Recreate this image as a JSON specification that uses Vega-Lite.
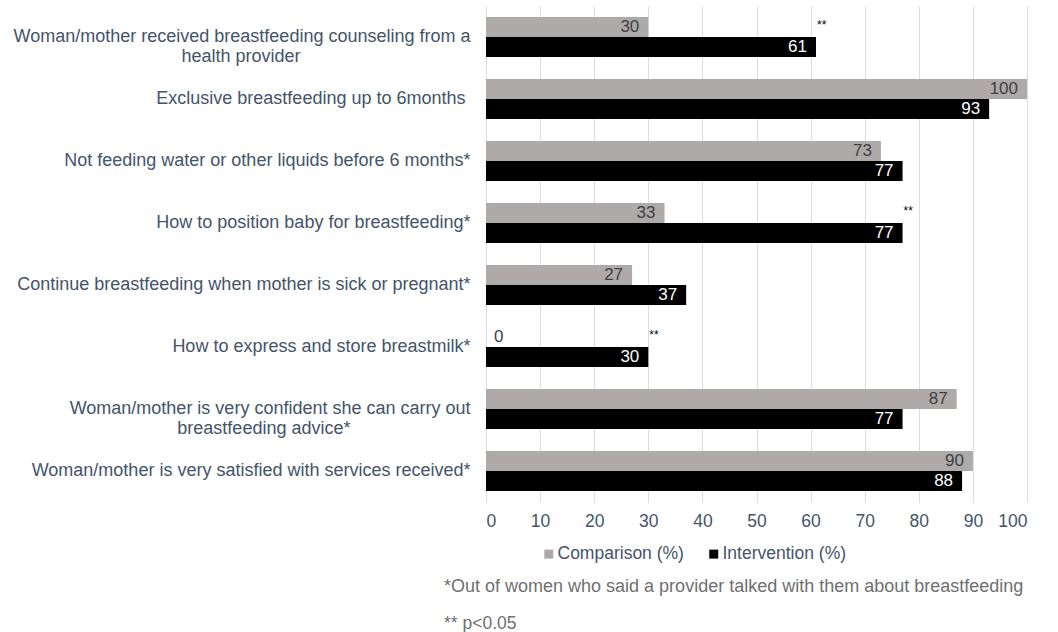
{
  "$schema": "https://vega.github.io/schema/vega-lite/v6.json",
  "width": 541,
  "height": 496,
  "autosize": {"type": "none"},
  "padding": {"left": 486, "top": 6, "right": 31, "bottom": 130},
  "background": "white",
  "config": {
    "font": "Liberation Sans",
    "view": {"stroke": null},
    "title": {"font": "Liberation Sans", "subtitleFont": "Liberation Sans"}
  },
  "title": {
    "text": "*Out of women who said a provider talked with them about breastfeeding",
    "subtitle": "** p<0.05",
    "orient": "bottom",
    "anchor": "start",
    "frame": "group",
    "dx": -42,
    "offset": 15,
    "fontSize": 18,
    "fontWeight": "normal",
    "color": "#6F6F6F",
    "subtitleFontSize": 17.5,
    "subtitleColor": "#6F6F6F",
    "subtitlePadding": 19
  },
  "data": {
    "values": [
      {"category": "Woman/mother received breastfeeding counseling from a|health provider\u00a0\u00a0\u00a0\u00a0\u00a0\u00a0\u00a0\u00a0\u00a0\u00a0\u00a0\u00a0\u00a0\u00a0\u00a0\u00a0\u00a0\u00a0\u00a0\u00a0\u00a0\u00a0\u00a0\u00a0\u00a0\u00a0\u00a0\u00a0\u00a0\u00a0\u00a0\u00a0\u00a0\u00a0\u200b", "series": "Comparison (%)", "value": 30, "sig": "**", "sigAt": 61},
      {"category": "Woman/mother received breastfeeding counseling from a|health provider\u00a0\u00a0\u00a0\u00a0\u00a0\u00a0\u00a0\u00a0\u00a0\u00a0\u00a0\u00a0\u00a0\u00a0\u00a0\u00a0\u00a0\u00a0\u00a0\u00a0\u00a0\u00a0\u00a0\u00a0\u00a0\u00a0\u00a0\u00a0\u00a0\u00a0\u00a0\u00a0\u00a0\u00a0\u200b", "series": "Intervention (%)", "value": 61, "sig": "", "sigAt": null},
      {"category": "Exclusive breastfeeding up to 6months\u00a0\u200b", "series": "Comparison (%)", "value": 100, "sig": "", "sigAt": null},
      {"category": "Exclusive breastfeeding up to 6months\u00a0\u200b", "series": "Intervention (%)", "value": 93, "sig": "", "sigAt": null},
      {"category": "Not feeding water or other liquids before 6 months*", "series": "Comparison (%)", "value": 73, "sig": "", "sigAt": null},
      {"category": "Not feeding water or other liquids before 6 months*", "series": "Intervention (%)", "value": 77, "sig": "", "sigAt": null},
      {"category": "How to position baby for breastfeeding*", "series": "Comparison (%)", "value": 33, "sig": "**", "sigAt": 77},
      {"category": "How to position baby for breastfeeding*", "series": "Intervention (%)", "value": 77, "sig": "", "sigAt": null},
      {"category": "Continue breastfeeding when mother is sick or pregnant*", "series": "Comparison (%)", "value": 27, "sig": "", "sigAt": null},
      {"category": "Continue breastfeeding when mother is sick or pregnant*", "series": "Intervention (%)", "value": 37, "sig": "", "sigAt": null},
      {"category": "How to express and store breastmilk*", "series": "Comparison (%)", "value": 0, "sig": "**", "sigAt": 30},
      {"category": "How to express and store breastmilk*", "series": "Intervention (%)", "value": 30, "sig": "", "sigAt": null},
      {"category": "Woman/mother is very confident she can carry out|breastfeeding advice*\u00a0\u00a0\u00a0\u00a0\u00a0\u00a0\u00a0\u00a0\u00a0\u00a0\u00a0\u00a0\u00a0\u00a0\u00a0\u00a0\u00a0\u00a0\u00a0\u00a0\u00a0\u00a0\u00a0\u00a0\u200b", "series": "Comparison (%)", "value": 87, "sig": "", "sigAt": null},
      {"category": "Woman/mother is very confident she can carry out|breastfeeding advice*\u00a0\u00a0\u00a0\u00a0\u00a0\u00a0\u00a0\u00a0\u00a0\u00a0\u00a0\u00a0\u00a0\u00a0\u00a0\u00a0\u00a0\u00a0\u00a0\u00a0\u00a0\u00a0\u00a0\u00a0\u200b", "series": "Intervention (%)", "value": 77, "sig": "", "sigAt": null},
      {"category": "Woman/mother is very satisfied with services received*", "series": "Comparison (%)", "value": 90, "sig": "", "sigAt": null},
      {"category": "Woman/mother is very satisfied with services received*", "series": "Intervention (%)", "value": 88, "sig": "", "sigAt": null}
    ]
  },
  "encoding": {
    "y": {
      "field": "category",
      "type": "nominal",
      "sort": null,
      "scale": {"paddingInner": 0.355, "paddingOuter": 0.1775},
      "axis": {
        "title": null,
        "domain": false,
        "ticks": false,
        "grid": false,
        "labelPadding": 16,
        "labelFontSize": 18,
        "labelColor": "#44546A",
        "labelLineHeight": 20,
        "labelLimit": 0,
        "labelExpr": "split(datum.label, '|')"
      }
    },
    "yOffset": {
      "field": "series",
      "type": "nominal",
      "scale": {"domain": ["Comparison (%)", "Intervention (%)"], "paddingInner": 0, "paddingOuter": 0}
    }
  },
  "layer": [
    {
      "mark": {"type": "bar"},
      "encoding": {
        "x": {
          "field": "value",
          "type": "quantitative",
          "scale": {"domain": [0, 100], "nice": false},
          "axis": {
            "title": null,
            "domain": false,
            "ticks": false,
            "values": [0, 10, 20, 30, 40, 50, 60, 70, 80, 90, 100],
            "gridColor": "#D9DEE6",
            "gridWidth": 1,
            "labelPadding": 10,
            "labelFontSize": 17.5,
            "labelColor": "#44546A"
          }
        },
        "color": {
          "field": "series",
          "type": "nominal",
          "scale": {"domain": ["Comparison (%)", "Intervention (%)"], "range": ["#AEAAAA", "#000000"]},
          "legend": {
            "title": null,
            "orient": "none",
            "direction": "horizontal",
            "legendX": 54,
            "legendY": 539,
            "symbolType": "square",
            "symbolSize": 81,
            "symbolStrokeWidth": 0,
            "labelFontSize": 17.5,
            "labelColor": "#44546A",
            "labelOffset": 0,
            "columnPadding": 21
          }
        }
      }
    },
    {
      "transform": [{"filter": "datum.value > 0"}],
      "mark": {"type": "text", "align": "right", "baseline": "middle", "dx": -9, "fontSize": 17},
      "encoding": {
        "x": {"field": "value", "type": "quantitative"},
        "text": {"field": "value", "type": "quantitative"},
        "color": {
          "field": "series",
          "type": "nominal",
          "scale": {"domain": ["Comparison (%)", "Intervention (%)"], "range": ["#404040", "#FFFFFF"]},
          "legend": null
        }
      }
    },
    {
      "transform": [{"filter": "datum.value == 0"}],
      "mark": {"type": "text", "align": "left", "baseline": "middle", "dx": 8, "fontSize": 17, "color": "#404040"},
      "encoding": {
        "x": {"field": "value", "type": "quantitative"},
        "text": {"field": "value", "type": "quantitative"}
      }
    },
    {
      "transform": [{"filter": "datum.sig != ''"}],
      "mark": {"type": "text", "align": "left", "baseline": "middle", "dx": 1, "dy": -2, "fontSize": 12, "color": "#000000"},
      "encoding": {
        "x": {"field": "sigAt", "type": "quantitative"},
        "text": {"field": "sig"}
      }
    }
  ],
  "resolve": {"scale": {"color": "independent"}}
}
